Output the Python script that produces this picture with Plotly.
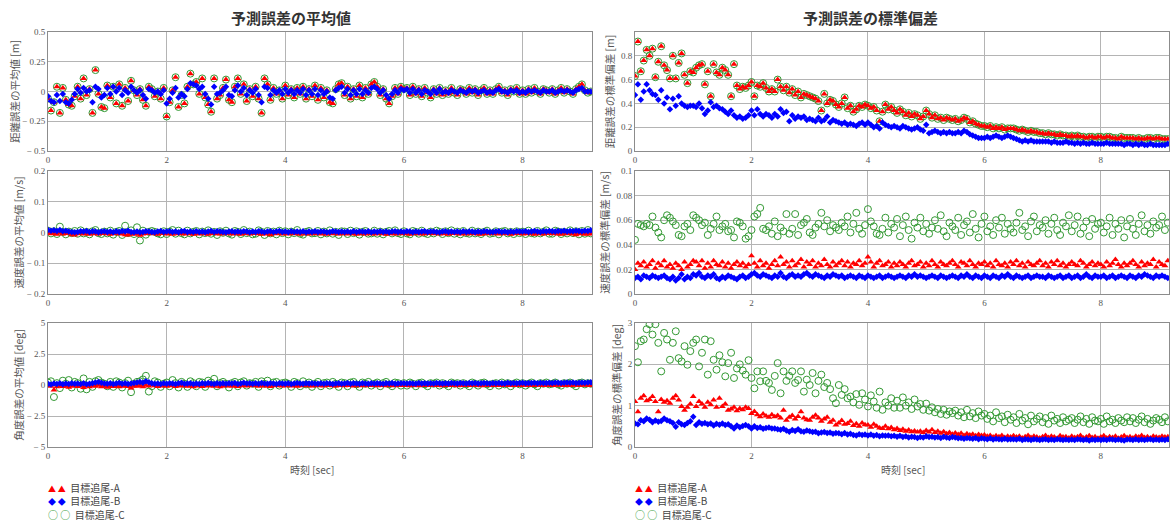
import plotly.graph_objects as go

# ---------------- data ----------------
STEP_SEC = 0.05                      # sampling interval of the time axis [sec]
X_TICKS = [0, 2, 4, 6, 8]
SERIES_NAMES = ["目標追尾-A", "目標追尾-B", "目標追尾-C"]

# distance error mean  [cm]
dist_mean_A_cm = [
    -6, -16, -9, 4, -18, 3, -7, -11, -12, -4,
    4, -6, 11, -3, 2, -18, 18, -2, -13, -14,
    5, -5, 4, -10, 6, -12, 3, -8, 9, 1,
    -3, 2, -7, -12, 4, 2, -4, 0, -6, 3,
    -21, -9, 1, 12, -13, -3, -10, 4, 15, 6,
    8, -2, 11, -5, -11, -17, 11, -6, -3, 3,
    10, -7, -9, 4, 11, -2, 6, -8, 2, -4,
    4, -6, -18, 11, 6, -7, 3, -2, 1, -6,
    5, -3, 2, -5, 3, -2, 4, -6, 2, -4,
    5, -7, 3, -5, 1, -9, -10, 2, 6, 7,
    -3, 4, -6, 2, -4, 5, -5, 3, -2, 6,
    8, 4, -3, 2, -6, -10, -4, 3, -2, 4,
    2, 3, -3, 4, -2, 2, -4, 3, -1, -5,
    2, -2, 3, -3, 1, -2, 3, -1, -3, 2,
    1, -2, 3, -1, 2, -3, 1, 3, -2, 1,
    -2, 2, 4, -1, 1, -3, 2, 0, 3, -2,
    1, -2, 2, -1, 3, 0, -2, 2, 1, -1,
    2, -2, 1, 3, -1, 2, 0, -2, 2, 4,
    6, 1, -1, 0]
dist_mean_B_cm = [
    -4, -8, -9, -3, -8, -2, -9, -10, -7, -2,
    2, -1, 3, 0, 1, -9, 4, 2, -5, -3,
    3, -2, 4, 0, 3, -3, 1, -1, 4, 1,
    -1, 1, -3, -6, 2, 1, -1, 0, -2, 1,
    -10, -6, -1, 3, -5, -2, -4, 2, 7, 6,
    5, 2, 4, -2, -6, -11, 4, -2, -1, 1,
    4, -3, -4, 1, 5, 0, 3, -3, 1, -1,
    2, -3, -9, 4, 3, -3, 1, -1, 1, -2,
    2, -1, 1, -2, 1, -1, 2, -3, 1, -2,
    2, -3, 1, -2, 0, -5, -6, 1, 3, 4,
    -1, 2, -3, 1, -2, 2, -2, 1, -1, 3,
    4, 2, -1, 1, -3, -6, -2, 1, -1, 2,
    1, 2, -1, 2, -1, 1, -2, 1, 0, -2,
    1, -1, 2, -1, 0, -1, 1, 0, -1, 1,
    0, -1, 1, 0, 1, -1, 0, 1, -1, 0,
    -1, 1, 2, 0, 0, -1, 1, 0, 1, -1,
    0, -1, 1, 0, 1, 0, -1, 1, 0, 0,
    1, -1, 0, 1, 0, 1, 0, -1, 1, 2,
    3, 0, 0, 0]
dist_mean_C_cm = list(dist_mean_A_cm)   # C lies exactly under A in the picture

# distance error standard deviation  [cm]
dist_std_A_cm = [
    63, 92, 67, 76, 85, 80, 86, 62, 75, 88,
    72, 68, 61, 80, 61, 74, 82, 64, 57, 67,
    66, 70, 72, 73, 56, 67, 46, 73, 66, 64,
    70, 68, 64, 46, 73, 55, 52, 54, 53, 55,
    58, 46, 55, 54, 57, 53, 50, 52, 50, 60,
    54, 51, 54, 49, 52, 47, 50, 45, 48, 47,
    46, 45, 44, 42, 34, 48, 40, 43, 42, 39,
    37, 40, 45, 36, 38, 33, 35, 38, 37, 39,
    38, 36, 37, 34, 25, 33, 39, 35, 37, 34,
    32, 35, 33, 30, 32, 29, 31, 30, 27, 29,
    34, 31, 28, 30, 27, 28, 26, 28, 27, 26,
    27, 25, 26, 28, 27, 24, 25, 23, 22, 21,
    21, 20, 21, 19, 20, 19, 20, 18, 19, 19,
    19, 18, 17, 18, 17, 16, 17, 16, 16, 15,
    15, 14, 15, 14, 14, 13, 14, 13, 13, 12,
    13, 12, 13, 12, 12, 11, 12, 12, 11, 12,
    12, 11, 12, 12, 11, 11, 10, 12, 11, 11,
    11, 11, 10, 11, 10, 10, 11, 11, 10, 11,
    11, 10, 10, 10]
dist_std_B_cm = [
    47, 56, 43, 50, 56, 51, 48, 47, 43, 51,
    40, 45, 35, 44, 38, 46, 40, 38, 37, 38,
    38, 37, 40, 36, 31, 34, 41, 37, 38, 36,
    35, 33, 31, 34, 30, 28, 29, 27, 28, 30,
    34, 30, 35, 31, 29, 31, 30, 28, 31, 29,
    35, 32, 33, 25, 30, 27, 29, 28, 29, 26,
    27, 26, 25, 28, 25, 26, 29, 24, 26, 25,
    24, 23, 24, 22, 23, 22, 21, 23, 24, 22,
    24, 22, 20, 21, 19, 24, 22, 21, 20, 21,
    20, 19, 21, 20, 19, 18, 19, 20, 18, 17,
    22, 15, 16, 17, 16, 15, 16, 15, 16, 15,
    15, 16, 15, 17, 16, 14, 13, 12, 11, 11,
    11, 12, 11, 12, 13, 12, 11, 12, 13, 12,
    11, 10, 9, 8, 9, 8, 9, 8, 8, 8,
    8, 8, 8, 7, 8, 7, 7, 7, 8, 7,
    7, 6, 7, 6, 7, 6, 6, 7, 6, 6,
    6, 6, 7, 6, 6, 6, 6, 6, 5, 6,
    6, 5, 6, 5, 6, 5, 5, 6, 5, 5,
    5, 5, 5, 6]
dist_std_C_cm = list(dist_std_A_cm)     # C lies exactly under A in the picture

# velocity error mean  [mm/s]
vel_mean_A_mms = [
    -2, -4, -3, -6, -1, -5, -3, -2, -7, -8,
    -4, -2, -5, -3, -6, -2, -4, -5, -3, -2,
    -4, -6, -3, -2, -5, -3, -7, -8, -4, -6,
    -3, -9, -5, -3, -2, -4, -3, -6, -2, -3,
    -5, -3, -6, -2, -4, -3, -5, -2, -4, -6,
    -3, -5, -2, -4, -6, -3, -2, -4, -5, -3,
    -4, -2, -5, -3, -4, -6, -3, -2, -5, -3,
    -2, -4, -6, -3, -5, -7, -3, -4, -2, -5,
    -3, -5, -2, -4, -3, -6, -2, -4, -5, -3,
    -4, -2, -5, -3, -6, -3, -4, -2, -5, -4,
    -3, -5, -2, -4, -6, -3, -4, -5, -2, -4,
    -5, -3, -4, -2, -6, -4, -3, -5, -2, -4,
    -3, -4, -6, -2, -4, -3, -5, -4, -2, -3,
    -4, -2, -5, -3, -4, -6, -3, -2, -4, -5,
    -3, -5, -2, -4, -3, -5, -6, -3, -4, -2,
    -4, -3, -5, -2, -4, -3, -6, -4, -2, -3,
    -5, -3, -4, -2, -6, -3, -4, -5, -3, -2,
    -4, -3, -5, -6, -2, -4, -3, -5, -7, -4,
    -3, -6, -4, -5]
vel_mean_B_mms = [
    8, 6, 7, 5, 8, 4, 6, 3, 2, 1,
    2, 4, 3, 5, 2, 4, 3, 1, 3, 4,
    2, 3, 1, 4, 2, 5, 3, 6, 2, 1,
    3, 1, 2, 4, 3, 2, 1, 3, 5, 2,
    3, 4, 2, 3, 1, 4, 5, 2, 3, 2,
    4, 2, 3, 1, 3, 5, 2, 4, 3, 2,
    1, 3, 4, 2, 3, 2, 4, 3, 1, 3,
    2, 4, 3, 1, 3, 4, 2, 3, 5, 2,
    3, 1, 4, 2, 3, 2, 4, 1, 3, 2,
    4, 2, 3, 3, 1, 2, 4, 3, 2, 3,
    2, 3, 1, 4, 2, 3, 3, 2, 4, 1,
    3, 2, 4, 2, 3, 1, 3, 4, 2, 3,
    2, 4, 3, 1, 3, 2, 3, 4, 2, 3,
    3, 2, 1, 3, 4, 2, 3, 2, 3, 1,
    4, 2, 3, 3, 1, 3, 2, 4, 3, 2,
    2, 3, 4, 2, 3, 1, 3, 2, 4, 3,
    3, 4, 2, 3, 5, 3, 2, 4, 3, 5,
    4, 3, 5, 4, 6, 3, 5, 4, 6, 5,
    4, 6, 5, 7]
vel_mean_C_mms = [
    6, -3, 4, -5, 19, 2, -6, 3, -2, 5,
    -4, 7, -3, 2, -6, 4, 8, -2, -5, 3,
    -3, 6, -7, 2, 5, -8, 22, -2, 7, -5,
    17, -26, 6, -7, 2, 5, 2, -3, -6, 4,
    -5, 3, 8, -4, 6, -2, -6, 6, -3, 2,
    5, -6, 3, -2, 7, -4, 2, -8, 4, -1,
    6, -3, -7, 5, 2, -5, 8, -2, 3, -6,
    -4, 7, 2, -8, 5, -3, 3, -6, 6, -2,
    4, -6, 3, -2, 8, -4, -7, 2, 5, -3,
    -2, 5, -6, 3, -3, 7, -4, 2, -8, 4,
    3, -5, 6, -2, 4, -7, 2, 5, -4, -3,
    6, -4, 3, -6, 2, 5, -3, 7, -2, -5,
    4, -3, -6, 5, 2, -4, 6, -2, -5, 3,
    -3, 6, 2, -5, 4, -2, 7, -4, 3, -6,
    5, -2, -4, 6, -3, 3, -5, 2, 6, -4,
    -2, 4, -6, 3, 5, -3, 2, -5, 4, -2,
    3, -5, 6, -2, -4, 5, -3, 2, 7, -4,
    -4, 6, 3, -5, 2, -3, 7, -2, 4, -6,
    5, -4, 8, -3]

# velocity error standard deviation  [mm/s]
vel_std_A_mms = [
    20, 25, 23, 26, 22, 24, 27, 21, 25, 23,
    27, 22, 24, 21, 25, 23, 20, 26, 22, 24,
    27, 26, 23, 27, 21, 25, 22, 27, 24, 23,
    26, 22, 25, 21, 24, 26, 23, 25, 22, 24,
    31, 25, 22, 27, 23, 25, 21, 24, 27, 23,
    30, 24, 26, 22, 27, 23, 25, 28, 22, 26,
    24, 27, 22, 25, 23, 28, 24, 22, 26, 23,
    25, 27, 23, 26, 22, 25, 24, 27, 23, 25,
    30, 26, 22, 25, 27, 23, 24, 26, 22, 25,
    23, 26, 24, 22, 25, 27, 23, 24, 26, 22,
    25, 23, 27, 24, 22, 26, 24, 23, 25, 27,
    24, 22, 26, 25, 23, 27, 24, 22, 25, 24,
    26, 23, 25, 22, 27, 24, 23, 25, 22, 26,
    24, 27, 23, 25, 22, 26, 24, 23, 25, 27,
    23, 25, 22, 26, 24, 27, 23, 25, 22, 24,
    26, 24, 23, 27, 25, 22, 24, 26, 23, 25,
    24, 22, 26, 23, 25, 28, 24, 22, 25, 23,
    25, 27, 24, 22, 26, 23, 25, 24, 28, 22,
    26, 24, 23, 27]
vel_std_B_mms = [
    13, 14, 12, 15, 14, 13, 15, 14, 13, 14,
    15, 13, 12, 14, 11, 13, 16, 12, 14, 13,
    16, 15, 17, 14, 13, 15, 14, 16, 13, 12,
    14, 13, 15, 14, 13, 12, 14, 15, 13, 14,
    16, 17, 15, 14, 16, 15, 14, 13, 15, 14,
    17, 14, 13, 15, 16, 14, 15, 14, 16, 17,
    15, 14, 16, 15, 14, 13, 15, 14, 16, 15,
    14, 15, 13, 14, 15, 14, 13, 15, 14, 13,
    15, 14, 13, 14, 15, 13, 14, 15, 14, 13,
    14, 15, 14, 13, 15, 14, 16, 14, 15, 14,
    13, 14, 15, 14, 13, 15, 14, 13, 14, 15,
    14, 13, 15, 14, 16, 14, 13, 15, 14, 13,
    15, 14, 13, 15, 14, 13, 15, 14, 16, 14,
    13, 15, 14, 13, 14, 15, 13, 14, 15, 14,
    14, 13, 15, 14, 13, 14, 15, 13, 14, 15,
    13, 14, 15, 13, 14, 16, 14, 13, 15, 14,
    14, 15, 13, 14, 15, 13, 14, 15, 14, 13,
    15, 14, 13, 15, 14, 16, 15, 14, 13, 15,
    14, 15, 14, 13]
vel_std_C_mms = [
    44, 57, 56, 55, 57, 56, 63, 54, 50, 46,
    60, 64, 62, 59, 56, 48, 47, 55, 57, 52,
    64, 62, 60, 56, 58, 48, 53, 57, 63, 52,
    55, 57, 51, 52, 46, 59, 58, 55, 45, 47,
    52, 63, 65, 70, 53, 52, 55, 49, 59, 47,
    54, 51, 65, 49, 53, 65, 48, 56, 58, 61,
    50, 48, 54, 57, 66, 55, 60, 51, 56, 54,
    52, 58, 55, 63, 50, 57, 66, 53, 49, 56,
    69, 59, 55, 49, 48, 53, 62, 50, 57, 54,
    61, 47, 56, 63, 52, 45, 58, 54, 62, 51,
    57, 49, 54, 60, 53, 64, 51, 47, 58, 55,
    52, 62, 48, 56, 59, 50, 65, 53, 46, 57,
    63, 51, 55, 48, 60, 54, 62, 49, 57, 53,
    50, 58, 66, 52, 55, 47, 59, 63, 51, 56,
    54, 60, 49, 57, 62, 52, 48, 58, 55, 64,
    51, 56, 63, 49, 54, 59, 47, 61, 53, 57,
    58, 50, 55, 62, 48, 57, 53, 60, 46, 55,
    61, 53, 48, 57, 64, 51, 56, 49, 59, 54,
    56, 63, 52, 58]

# angle error mean  [0.01 deg]
ang_mean_A_cdeg = [
    -5, -10, -40, -15, -8, -12, -5, -18, -10, -3,
    -12, -6, -20, -8, -15, -4, -10, -2, -14, -6,
    -18, -8, -12, -4, -15, -10, -6, -12, -25, -8,
    -10, -5, -14, -3, -8, 5, -6, -12, -8, -4,
    -10, -6, -3, -12, -5, -8, -2, -10, -6, -15,
    -4, -9, -12, -3, -8, -5, -10, -2, -14, -6,
    -8, -3, -10, -5, -12, -6, -2, -9, -4, -7,
    -5, -10, -3, -8, -6, -12, -4, -7, -2, -9,
    -6, -3, -8, -5, -10, -4, -7, -2, -6, -9,
    -4, -7, -3, -8, -5, -2, -6, -9, -4, -3,
    -6, -2, -5, -8, -3, -6, -4, -7, -2, -5,
    -3, -6, -4, -2, -7, -5, -3, -6, -4, -2,
    -5, -3, -6, -2, -4, -7, -3, -5, -2, -4,
    -3, -5, -2, -6, -4, -1, -5, -3, -6, -2,
    -4, -2, -5, -3, -1, -4, -6, -2, -3, -5,
    -2, -4, -3, -5, -1, -3, -4, -2, -5, -3,
    -3, -1, -4, -2, -5, -3, -1, -4, -2, -3,
    -4, -2, -1, -3, -5, -2, -4, -1, -3, -2,
    -3, -1, -2, -4]
ang_mean_B_cdeg = [
    10, 5, 12, 8, 15, 6, 12, 8, 15, 10,
    12, 8, 14, 6, 10, 15, 20, 25, 18, 12,
    10, 15, 8, 12, 18, 10, 14, 8, 12, 16,
    20, 25, 18, 30, 22, 15, 10, 12, 8, 14,
    10, 15, 12, 8, 14, 18, 10, 12, 15, 9,
    12, 8, 14, 10, 16, 12, 9, 14, 11, 15,
    10, 14, 12, 16, 9, 13, 18, 12, 15, 10,
    14, 11, 16, 12, 10, 15, 13, 9, 14, 12,
    11, 15, 9, 13, 16, 12, 10, 14, 12, 15,
    12, 10, 14, 11, 15, 13, 9, 12, 14, 10,
    13, 16, 11, 14, 12, 10, 15, 13, 11, 14,
    12, 15, 13, 10, 14, 12, 16, 11, 13, 15,
    14, 12, 15, 13, 11, 16, 13, 14, 12, 15,
    13, 16, 14, 12, 15, 13, 17, 14, 12, 16,
    15, 13, 16, 14, 17, 12, 15, 16, 14, 13,
    16, 14, 17, 15, 13, 18, 15, 16, 14, 17,
    18, 15, 17, 16, 19, 15, 18, 17, 16, 19,
    17, 20, 18, 16, 19, 21, 18, 20, 17, 19,
    21, 18, 20, 22]
ang_mean_C_cdeg = [
    20, 30, -97, 15, -25, 35, 10, 40, -20, 25,
    15, -30, 53, -35, 25, -15, 30, 40, 20, 10,
    -10, 25, -15, 30, 20, -20, 15, 35, -58, 10,
    25, 30, 45, 74, -53, -10, 30, 20, -15, 10,
    20, -10, 40, 15, -20, 25, 10, -15, 30, 15,
    -10, 25, 20, -15, 35, 20, 50, -10, 15, 25,
    10, -20, 15, 25, -10, 20, 30, -5, 15, 10,
    25, -15, 30, 10, 35, -10, 20, 25, -5, 15,
    20, 10, -15, 25, 15, -10, 30, 5, 20, -15,
    10, 25, -10, 15, 20, -5, 25, 10, -15, 20,
    15, -10, 20, 25, 5, -15, 20, 10, 25, -5,
    10, 20, -10, 15, 25, 5, -10, 20, 15, -5,
    15, -5, 20, 10, -10, 15, 20, 5, -10, 15,
    10, 20, -5, 15, 5, -10, 20, 10, 15, -5,
    15, 5, -10, 20, 10, -5, 15, 20, 5, -10,
    10, 15, -5, 20, 5, 15, -10, 10, 20, 5,
    15, -5, 10, 20, 5, -10, 15, 10, 20, 5,
    10, 20, 5, -5, 15, 10, 20, 5, -10, 15,
    20, 5, 15, 10]

# angle error standard deviation  [0.01 deg]
ang_std_A_cdeg = [
    110, 85, 118, 124, 112, 115, 122, 110, 85, 115,
    108, 112, 106, 118, 124, 114, 98, 89, 96, 104,
    122, 98, 110, 104, 96, 108, 102, 114, 96, 118,
    98, 104, 89, 92, 96, 88, 93, 90, 96, 93,
    81, 86, 78, 73, 80, 75, 72, 78, 73, 76,
    70, 89, 65, 72, 76, 68, 74, 85, 70, 66,
    65, 72, 77, 70, 62, 68, 72, 60, 65, 53,
    58, 64, 55, 57, 62, 52, 56, 50, 58, 54,
    53, 48, 55, 50, 46, 45, 50, 44, 47, 42,
    45, 40, 43, 38, 41, 37, 39, 36, 38, 35,
    40, 36, 42, 35, 38, 33, 37, 32, 35, 31,
    34, 30, 33, 28, 32, 29, 31, 27, 30, 28,
    29, 26, 28, 24, 27, 25, 28, 23, 26, 24,
    27, 24, 26, 22, 25, 28, 23, 26, 24, 22,
    25, 28, 23, 26, 24, 21, 27, 24, 25, 22,
    26, 23, 25, 28, 22, 24, 27, 23, 25, 21,
    24, 27, 22, 25, 23, 26, 21, 24, 27, 23,
    25, 22, 26, 24, 28, 23, 25, 22, 26, 24,
    23, 26, 24, 25]
ang_std_B_cdeg = [
    57, 55, 65, 62, 69, 66, 60, 64, 61, 63,
    69, 65, 62, 58, 49, 60, 55, 53, 58, 62,
    73, 53, 60, 56, 58, 55, 57, 52, 56, 54,
    57, 53, 55, 50, 45, 52, 48, 51, 53, 50,
    45, 50, 46, 48, 44, 46, 47, 45, 45, 43,
    42, 44, 40, 37, 41, 39, 43, 38, 37, 40,
    38, 36, 37, 33, 35, 36, 34, 35, 32, 34,
    33, 31, 34, 30, 32, 29, 28, 31, 29, 30,
    28, 30, 27, 29, 26, 28, 27, 28, 26, 27,
    25, 27, 24, 26, 23, 25, 24, 22, 24, 23,
    26, 24, 25, 23, 24, 22, 25, 23, 22, 24,
    23, 21, 22, 20, 22, 21, 20, 22, 19, 21,
    20, 19, 21, 18, 20, 19, 18, 20, 18, 19,
    19, 18, 20, 17, 19, 18, 17, 19, 18, 17,
    18, 19, 17, 18, 17, 19, 18, 17, 18, 17,
    18, 17, 19, 18, 17, 18, 16, 18, 17, 18,
    17, 18, 17, 19, 18, 17, 18, 17, 16, 18,
    18, 17, 19, 17, 18, 17, 18, 19, 17, 18,
    17, 18, 17, 19]
ang_std_C_cdeg = [
    244, 205, 256, 260, 285, 297, 272, 297, 252, 183,
    276, 260, 211, 252, 280, 215, 207, 244, 199, 232,
    252, 260, 195, 228, 260, 175, 256, 211, 187, 222,
    205, 171, 203, 228, 167, 190, 200, 185, 175, 210,
    167, 142, 183, 159, 183, 160, 155, 138, 172, 203,
    130, 183, 160, 172, 183, 155, 162, 183, 134, 163,
    150, 179, 130, 160, 175, 145, 155, 140, 118, 106,
    150, 126, 140, 118, 122, 108, 128, 102, 130, 115,
    98, 125, 110, 95, 134, 90, 108, 100, 118, 95,
    112, 95, 120, 100, 108, 92, 115, 98, 104, 90,
    105, 88, 96, 84, 92, 80, 90, 78, 86, 82,
    88, 76, 84, 72, 90, 74, 82, 70, 86, 76,
    80, 68, 76, 62, 84, 70, 74, 60, 78, 66,
    72, 58, 80, 64, 70, 55, 76, 62, 68, 74,
    60, 70, 56, 76, 64, 68, 58, 72, 62, 66,
    70, 58, 66, 74, 60, 68, 56, 72, 64, 62,
    68, 56, 74, 62, 66, 58, 70, 64, 60, 72,
    62, 70, 58, 66, 74, 60, 68, 56, 64, 70,
    66, 60, 72, 62]

# y tick labels of each panel
yt_dist_mean = [-0.5, -0.25, 0, 0.25, 0.5]
yt_vel_mean = [-0.2, -0.1, 0, 0.1, 0.2]
yt_ang_mean = [-5, -2.5, 0, 2.5, 5]
yt_dist_std = [0, 0.2, 0.4, 0.6, 0.8]
yt_vel_std = [0, 0.02, 0.04, 0.06, 0.08, 0.1]
yt_ang_std = [0, 1, 2, 3]

# ---------------- figure ----------------
W, H = 1173, 521
def px_x(p): return p / W
def px_y(p): return 1 - p / H

COL_X = {"L": [px_x(48), px_x(592)], "R": [px_x(635), px_x(1169)]}
ROW_Y = [[px_y(151), px_y(32)], [px_y(294), px_y(171)], [px_y(447), px_y(323)]]

GREEN = "#339933"
STYLE = {
    "A": dict(symbol="triangle-up", size=6, color="#ff0000"),
    "B": dict(symbol="diamond", size=5, color="#0000ff"),
    "C": dict(symbol="circle-open", size=7, color=GREEN, line=dict(width=1, color=GREEN)),
}

def fmt(v):
    s = ("%g" % abs(v))
    return ("− " + s) if v < 0 else s

panels = [
    # (axis idx, col, row, scale, {series: values}, yrange, yticks, ytitle)
    (1, "L", 0, 0.01, {"A": dist_mean_A_cm, "B": dist_mean_B_cm, "C": dist_mean_C_cm},
     [-0.5, 0.5], yt_dist_mean, "距離誤差の平均値 [m]"),
    (2, "R", 0, 0.01, {"A": dist_std_A_cm, "B": dist_std_B_cm, "C": dist_std_C_cm},
     [0, 1.0], yt_dist_std, "距離誤差の標準偏差 [m]"),
    (3, "L", 1, 0.001, {"A": vel_mean_A_mms, "B": vel_mean_B_mms, "C": vel_mean_C_mms},
     [-0.2, 0.2], yt_vel_mean, "速度誤差の平均値 [m/s]"),
    (4, "R", 1, 0.001, {"A": vel_std_A_mms, "B": vel_std_B_mms, "C": vel_std_C_mms},
     [0, 0.1], yt_vel_std, "速度誤差の標準偏差 [m/s]"),
    (5, "L", 2, 0.01, {"A": ang_mean_A_cdeg, "B": ang_mean_B_cdeg, "C": ang_mean_C_cdeg},
     [-5, 5], yt_ang_mean, "角度誤差の平均値 [deg]"),
    (6, "R", 2, 0.01, {"A": ang_std_A_cdeg, "B": ang_std_B_cdeg, "C": ang_std_C_cdeg},
     [0, 3], yt_ang_std, "角度誤差の標準偏差 [deg]"),
]

fig = go.Figure()
TICK_FONT = dict(family="Liberation Serif, serif", size=9, color="#555555")
GRID = "#b4b4b4"
LINE = "#8c8c8c"

for idx, col, row, scale, series, yr, yt, ytitle in panels:
    sfx = "" if idx == 1 else str(idx)
    for key in ["C", "A", "B"]:
        vals = series[key]
        fig.add_trace(go.Scatter(
            x=[i * STEP_SEC for i in range(len(vals))],
            y=[v * scale for v in vals],
            mode="markers", name=SERIES_NAMES["ABC".index(key)],
            marker=STYLE[key], showlegend=False,
            xaxis="x" + sfx, yaxis="y" + sfx,
        ))
    fig.layout["xaxis" + sfx] = dict(
        domain=COL_X[col], range=[0, 9.17], anchor="y" + sfx,
        tickvals=X_TICKS, ticktext=[str(v) for v in X_TICKS],
        showgrid=True, gridcolor=GRID, gridwidth=1, zeroline=False,
        showline=True, linecolor=LINE, linewidth=1, mirror=True,
        ticks="", tickfont=TICK_FONT, automargin=False,
    )
    fig.layout["yaxis" + sfx] = dict(
        domain=ROW_Y[row], range=yr, anchor="x" + sfx,
        tickvals=yt, ticktext=[fmt(v) for v in yt],
        showgrid=True, gridcolor=GRID, gridwidth=1, zeroline=False,
        showline=True, linecolor=LINE, linewidth=1, mirror=True,
        ticks="", tickfont=TICK_FONT, automargin=False,
        title=dict(text=ytitle, standoff=0 if col == "L" else 4,
                   font=dict(family="Noto Sans CJK JP", size=10.5, color="#555555")),
    )

ann = []
# column titles
for text, xc in [("予測誤差の平均値", 291), ("予測誤差の標準偏差", 870)]:
    ann.append(dict(text="<b>%s</b>" % text, x=px_x(xc), y=px_y(17), xref="paper", yref="paper",
                    showarrow=False, xanchor="center", yanchor="middle",
                    font=dict(family="Noto Sans CJK JP", size=15, color="#333333")))
# x axis titles
for xc in [312, 903]:
    ann.append(dict(text="時刻 [sec]", x=px_x(xc), y=px_y(469), xref="paper", yref="paper",
                    showarrow=False, xanchor="center", yanchor="middle",
                    font=dict(family="Noto Sans CJK JP", size=10, color="#555555")))
# legends (two marker glyphs then the series name, as in the reference)
LEG_GLYPH = {"A": ("▲ ▲", "#ff0000", 8), "B": ("◆ ◆", "#0000ff", 8), "C": ("○ ○", GREEN, 10)}
for x0 in [46, 633]:
    for k, (key, yc) in enumerate(zip("ABC", [487, 500.5, 514])):
        g, c, fs = LEG_GLYPH[key]
        ann.append(dict(
            text="<span style='color:%s;font-size:%dpx'>%s</span>  %s" % (c, fs, g, SERIES_NAMES[k]),
            x=px_x(x0), y=px_y(yc), xref="paper", yref="paper", showarrow=False,
            xanchor="left", yanchor="middle",
            font=dict(family="Noto Sans CJK JP", size=10, color="#444444")))

fig.update_layout(
    width=W, height=H, margin=dict(l=0, r=0, t=0, b=0),
    paper_bgcolor="white", plot_bgcolor="white",
    font=dict(family="Noto Sans CJK JP", size=10, color="#444444"),
    annotations=ann, showlegend=False,
)

# remove the default 8px page margin so the figure sits at the window's top-left corner
fig.write_html("out.html", config={"displayModeBar": False},
               post_script="document.body.style.margin='0';")
